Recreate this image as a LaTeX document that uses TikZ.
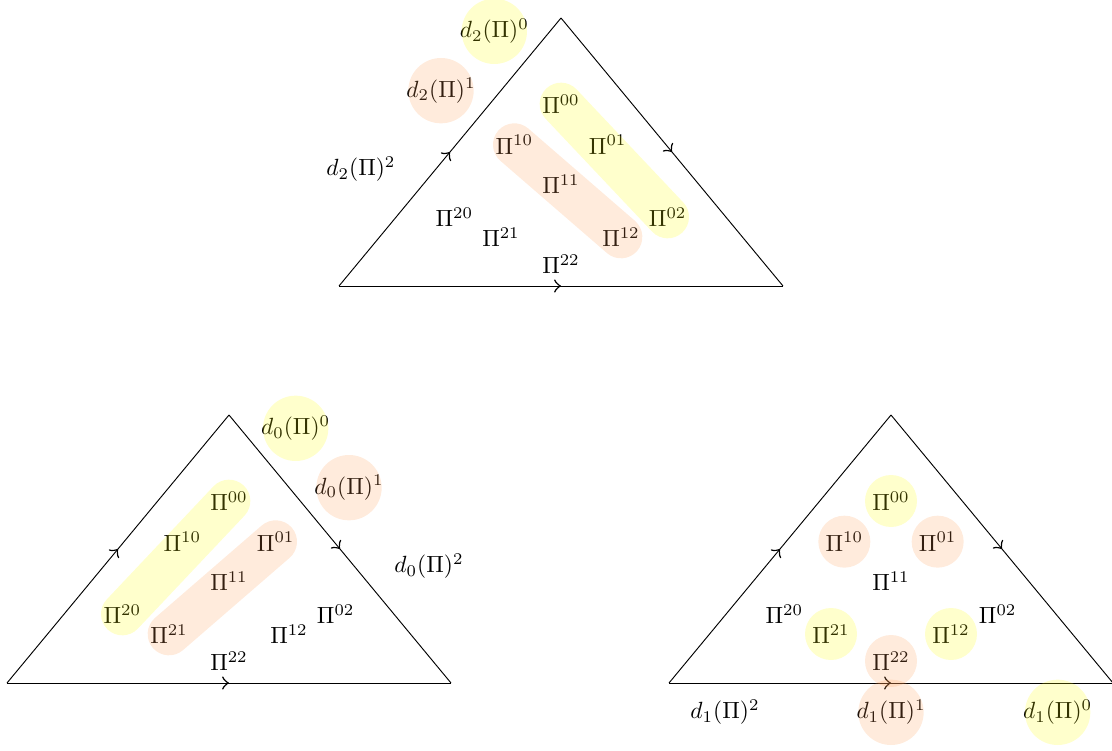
\documentclass[tikz,border=0pt]{standalone}
\usepackage{amsmath}
\usetikzlibrary{calc,decorations.markings,positioning}
\definecolor{FaceYellow}{HTML}{FFFF00}
\definecolor{FaceOrange}{HTML}{FF9A50}
\tikzset{
  edgearrow/.style={postaction={decorate},decoration={markings,mark=at position 0.5 with {\arrow[scale=1.6]{>}}}},
  tint/.style={opacity=0.2},
  band/.style={tint,line width=6.4mm,line cap=round},
}
% one triangle with its nine faces, named #1-ij
\newcommand{\facetri}[2]{%
  \begin{scope}[shift={#2}]
    \coordinate (#1-top) at (0,0);
    \coordinate (#1-left) at (-3.33,-4.02);
    \coordinate (#1-right) at (3.33,-4.02);
    \draw[edgearrow] (#1-left) -- (#1-top);
    \draw[edgearrow] (#1-top) -- (#1-right);
    \draw[edgearrow] (#1-left) -- (#1-right);
    \foreach \ij/\x/\y in {00/0/-1.29,10/-0.7/-1.9,01/0.7/-1.9,11/0/-2.49,
        20/-1.6/-2.985,02/1.6/-2.985,21/-0.9/-3.285,12/0.9/-3.285,22/0/-3.69}
      \node (#1-\ij) at (\x,\y) {$\Pi^{\ij}$};
  \end{scope}}

\begin{document}
\begin{tikzpicture}
  \useasboundingbox (0,0) rectangle (16.68,11.25);

  \facetri{top}{(8.415,10.98)}
  \facetri{lft}{(3.435,5.025)}
  \facetri{rgt}{(13.365,5.025)}

  % face maps
  \node (dtwo-0) at ($(top-top)+(-1.0,-0.2)$) {$d_2(\Pi)^0$};
  \node (dtwo-1) at ($(top-top)+(-1.8,-1.09)$) {$d_2(\Pi)^1$};
  \node (dtwo-2) at ($(top-top)+(-3.0,-2.27)$) {$d_2(\Pi)^2$};
  \node (dzero-0) at ($(lft-top)+(1.0,-0.2)$) {$d_0(\Pi)^0$};
  \node (dzero-1) at ($(lft-top)+(1.8,-1.09)$) {$d_0(\Pi)^1$};
  \node (dzero-2) at ($(lft-top)+(3.0,-2.27)$) {$d_0(\Pi)^2$};
  \node (done-2) at ($(rgt-top)+(-2.49,-4.46)$) {$d_1(\Pi)^2$};
  \node (done-1) at ($(rgt-top)+(0,-4.46)$) {$d_1(\Pi)^1$};
  \node (done-0) at ($(rgt-top)+(2.5,-4.46)$) {$d_1(\Pi)^0$};

  % highlights
  \draw[band,FaceYellow] (top-00.center) -- (top-02.center);
  \draw[band,FaceOrange] (top-10.center) -- (top-12.center);
  \fill[tint,FaceYellow] (dtwo-0) circle (0.49);
  \fill[tint,FaceOrange] (dtwo-1) circle (0.49);

  \draw[band,FaceYellow] (lft-00.center) -- (lft-20.center);
  \draw[band,FaceOrange] (lft-01.center) -- (lft-21.center);
  \fill[tint,FaceYellow] (dzero-0) circle (0.49);
  \fill[tint,FaceOrange] (dzero-1) circle (0.49);

  \foreach \ij in {00,21,12}
    \fill[tint,FaceYellow] (rgt-\ij) circle (0.39);
  \foreach \ij in {10,01,22}
    \fill[tint,FaceOrange] (rgt-\ij) circle (0.39);
  \fill[tint,FaceYellow] (done-0) circle (0.49);
  \fill[tint,FaceOrange] (done-1) circle (0.49);
\end{tikzpicture}
\end{document}
